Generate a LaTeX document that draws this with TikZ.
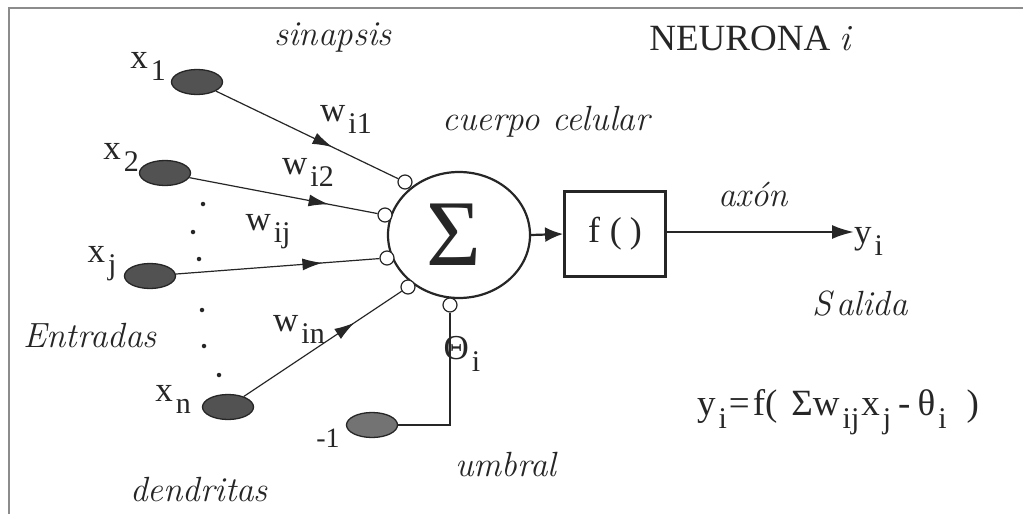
\documentclass[tikz,border=0pt]{standalone}
\usepackage{fontspec}
\setmainfont{Liberation Serif}
\newfontfamily\lmfont{Latin Modern Roman}
\usetikzlibrary{arrows.meta,decorations.markings,shapes.geometric}
\newcommand{\sbs}[2]{#1\kern3pt\raisebox{-0.75ex}{\fontsize{30}{34}\selectfont #2}}
\begin{document}
\begin{tikzpicture}[x=1pt,y=-1pt,
  lbl/.style={font=\fontsize{35}{40}\selectfont\lmfont\itshape, inner sep=0pt, text=black!85},
  var/.style={font=\fontsize{35}{40}\selectfont, inner sep=0pt, text=black!85},
  inp/.style={ellipse, draw=black!85, fill=black!68, minimum width=51pt, minimum height=25pt, line width=1.3pt, inner sep=0pt},
  syn/.style={circle, draw=black!85, fill=white, minimum size=14pt, inner sep=0pt, line width=1.2pt},
  wire/.style={line width=1.2pt, draw=black!85, postaction={decorate},
     decoration={markings, mark=at position #1 with {\arrow{Latex[length=20pt,width=12pt]}}}},
  dotp/.style={circle, fill=black!85, inner sep=0pt, minimum size=4.5pt}
]
\useasboundingbox (0,0) rectangle (1023,514);
\fill[white] (0,0) rectangle (1023,514);
% frame
\draw[black!45, line width=1.2pt] (9,514) -- (9,8) -- (1023,8);

% main body
\node[ellipse, draw=black!85, line width=2.2pt, minimum width=142pt, minimum height=126pt, inner sep=0pt] (sig) at (459,235) {};
\node[font=\fontsize{94}{100}\selectfont, text=black!85] at (454,235) {Σ};

% synapses
\node[syn] (s1) at (405,182) {};
\node[syn] (s2) at (385,215) {};
\node[syn] (s3) at (387,258) {};
\node[syn] (s4) at (408,287) {};
\node[syn] (s5) at (450,305) {};

% inputs
\node[inp] (x1) at (197,82) {};
\node[inp] (x2) at (165,173) {};
\node[inp] (xj) at (150,276) {};
\node[inp] (xn) at (228,407) {};
\node[inp, fill=black!55] (m1) at (372,425) {};

\draw[wire=0.64] (x1) -- (s1);
\draw[wire=0.74] (x2) -- (s2);
\draw[wire=0.72] (xj) -- (s3);
\draw[wire=0.7] (xn) -- (s4);
\draw[line width=1.2pt, draw=black!85] (m1.east) -| (s5.south);

% input labels
\node[var] (lx1) at (148,66) {\sbs{x}{1}};
\node[var] (lx2) at (121,157) {\sbs{x}{2}};
\node[var] (lxj) at (102,264) {\sbs{x}{j}};
\node[var] (lxn) at (173,399) {\sbs{x}{n}};
\node[var, font=\fontsize{28}{32}\selectfont] (lm1) at (328,438) {-1};

% weights
\node[var] (w1) at (346,119) {\sbs{w}{i1}};
\node[var] (w2) at (308,172) {\sbs{w}{i2}};
\node[var] (wj) at (268,232) {\sbs{w}{ij}};
\node[var] (wn) at (299,329) {\sbs{w}{in}};
\node[var] (th) at (462,354) {\sbs{Θ}{i}};

% dots
\foreach \p [count=\k] in {(203,204),(193,232),(199,259),(202,310),(204,346),(219,375)}
  \node[dotp] (d\k) at \p {};

% f box
\node[draw=black!85, line width=2.8pt, minimum width=101pt, minimum height=85pt, inner sep=0pt,
      font=\fontsize{36}{40}\selectfont, text=black!85] (f) at (615,234) {f\hspace{10pt}(\hspace{8pt})};
\draw[line width=2.2pt, draw=black!85, -{Latex[length=18pt,width=15pt]}] (sig.east) -- (f.west);

% output
\node[var, anchor=west] (yi) at (854,241) {\sbs{y}{i}};
\draw[line width=2.2pt, draw=black!85, -{Latex[length=22pt,width=14pt]}] (f.east |- 0,232) coordinate (fe) -- (fe -| yi.west);

% text labels
\node[lbl] (sin) at (333,38) {sinapsis};
\node[var, font=\fontsize{37}{42}\selectfont] (neu) at (750,38) {NEURONA {\lmfont\itshape i}};
\node[lbl] (cc) at (546,122) {cuerpo celular};
\node[lbl] (ax) at (753,194) {axón};
\node[lbl] (sal) at (860,304) {S\hspace{5pt}alida};
\node[lbl] (ent) at (90,336) {Entradas};
\node[lbl] (den) at (199,490) {dendritas};
\node[lbl] (umb) at (506,465) {umbral};
\node[var, font=\fontsize{37}{42}\selectfont] (eq) at (838,412) {\sbs{y}{i}\hspace{2pt}=\hspace{3pt}f(\hspace{14pt}Σ\sbs{w}{ij}\hspace{2pt}\sbs{x}{j}\hspace{7pt}-\hspace{7pt}\sbs{θ}{i}\hspace{20pt})};
\end{tikzpicture}
\end{document}
